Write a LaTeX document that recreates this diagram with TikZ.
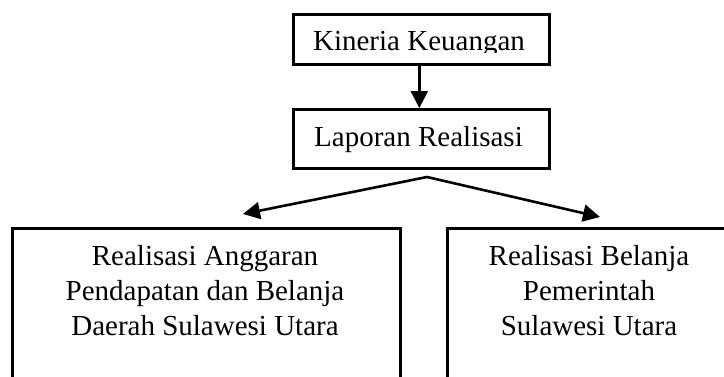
\documentclass[tikz,border=0pt]{standalone}
\usepackage{fontspec}
\setmainfont{Liberation Serif}
\usetikzlibrary{arrows.meta}
\begin{document}
\begin{tikzpicture}[x=1pt,y=-1pt,
  box/.style={draw=black,line width=2.6pt,rectangle,inner sep=0pt,anchor=north west},
  txt/.style={inner sep=0pt,anchor=base,font=\fontsize{29pt}{35pt}\selectfont},
  arr/.style={line width=2.6pt,-{Triangle[length=17pt,width=17pt]}}]
\useasboundingbox (0,0) rectangle (724,376);
\clip (0,0) rectangle (724,376);
\fill[white] (0,0) rectangle (724,376);
% top boxes
\node[box,minimum width=256pt,minimum height=50pt] (K) at (292,13) {};
\begin{scope}
\clip (0,0) rectangle (724,52.5);
\node[txt] (Kt) at (419,50) {Kineria Keuangan};
\end{scope}
\node[box,minimum width=256pt,minimum height=59pt] (R) at (292,108) {};
\node[txt] (Rt) at (418.5,146) {Laporan Realisasi};
\draw[arr] ([xshift=-2pt]K.south) -- ([xshift=-2pt]R.north);
% bottom boxes
\node[box,minimum width=388pt,minimum height=200pt] (L) at (11,227) {};
\node[txt] (L1) at (205,265) {Realisasi Anggaran};
\node[txt] (L2) at (205,300) {Pendapatan dan Belanja};
\node[txt] (L3) at (205,335) {Daerah Sulawesi Utara};
\node[box,minimum width=300pt,minimum height=200pt] (B) at (446,227) {};
\node[txt] (B1) at (589,265) {Realisasi Belanja};
\node[txt] (B2) at (589,300) {Pemerintah};
\node[txt] (B3) at (589,335) {Sulawesi Utara};
% branching arrows
\coordinate (apex) at (427,177);
\coordinate (tipL) at (243,214);
\coordinate (tipR) at (600,217);
\draw[arr] (apex) -- (tipL);
\draw[arr] (apex) -- (tipR);
\end{tikzpicture}
\end{document}
